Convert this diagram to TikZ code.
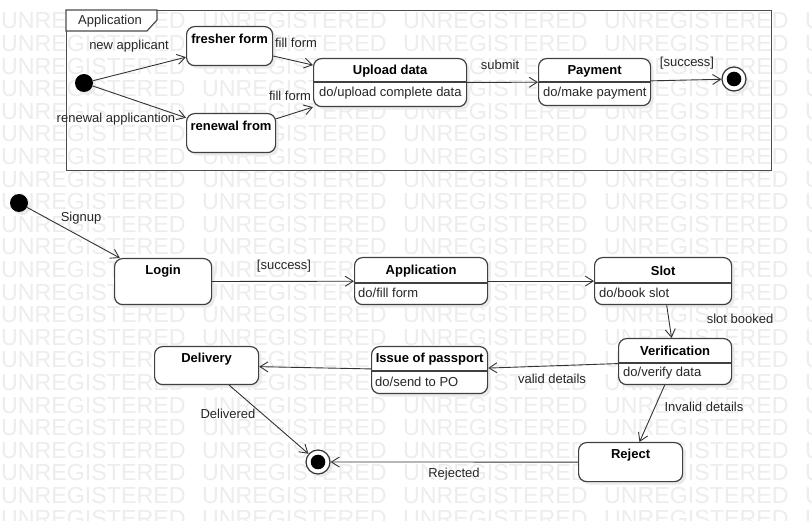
\documentclass[tikz,border=0pt]{standalone}
\usepackage{fontspec}
\setmainfont{Liberation Sans}
\usetikzlibrary{arrows.meta,shadows}
\begin{document}
\begin{tikzpicture}[x=1pt,y=-1pt,
  txt/.style={inner sep=0pt, text=black!85, font=\fontsize{13}{15}\selectfont},
  ttl/.style={inner sep=0pt, text=black, font=\fontsize{13}{15}\selectfont\bfseries},
  act/.style={txt, anchor=west},
  wm/.style={inner sep=0pt, anchor=base west, text=black!7, font=\fontsize{23.2}{24}\selectfont},
  shade/.style={drop shadow={shadow xshift=3pt, shadow yshift=-3pt, fill=black!8, opacity=1, draw=none}},
  state/.style={shade, draw=black!75, line width=1.2pt, fill=white, rounded corners=8pt, inner sep=0pt, anchor=north west},
  initial/.style={shade, circle, fill=black, minimum size=18pt, inner sep=0pt},
  final/.style={shade, circle, draw=black!80, line width=1.2pt, fill=white, minimum size=24pt, inner sep=0pt,
     path picture={\fill[black] (path picture bounding box.center) circle[radius=7.3pt];}},
  edge/.style={draw=black!80, line width=0.9pt, -{Straight Barb[length=8pt,width=10pt]}},
  divider/.style={draw=black!75, line width=1.2pt},
  framebox/.style={draw=black!70, line width=1.2pt, inner sep=0pt, anchor=north west},
]
% canvas
\fill[white] (0,0) rectangle (812,521);
\useasboundingbox (0,0) rectangle (812,521);

% background stamp rows
\begin{scope}
  \clip (0,0) rectangle (812,521);
  \foreach \r in {0,...,22}{
    \foreach \c in {0,...,4}{
      \node[wm] (wm-\r-\c) at (1+201*\c, 29+22.6*\r) {UNREGISTERED};
    }
  }
\end{scope}

% ---------- composite state "Application" ----------
\node[framebox, minimum width=705pt, minimum height=160pt] (frame) at (66,10) {};
\filldraw[draw=black!70, fill=white, line width=1.2pt]
  (66,10) -- (157,10) -- (157,20) -- (147,31) -- (66,31) -- cycle;
\node[txt] (frame-t) at (110,21) {Application};

\node[initial] (ini1) at (84,83) {};
\node[state, minimum width=86pt, minimum height=39pt] (fresher) at (186,26) {};
\node[ttl] (fresher-t) at ([yshift=-13pt]fresher.north) {fresher form};
\node[state, minimum width=89pt, minimum height=39pt] (renewal) at (186,113) {};
\node[ttl] (renewal-t) at ([yshift=-13pt]renewal.north) {renewal from};

\node[state, minimum width=153pt, minimum height=48pt] (upl) at (313,58) {};
\node[ttl] (upl-t) at ([yshift=-13pt]upl.north) {Upload data};
\draw[divider] ([yshift=-24pt]upl.north west) -- ([yshift=-24pt]upl.north east);
\node[act] (upl-d) at ([xshift=6pt,yshift=-35pt]upl.north west) {do/upload complete data};

\node[state, minimum width=112pt, minimum height=47pt] (pay) at (538,58) {};
\node[ttl] (pay-t) at ([yshift=-13pt]pay.north) {Payment};
\draw[divider] ([yshift=-24pt]pay.north west) -- ([yshift=-24pt]pay.north east);
\node[act] (pay-d) at ([xshift=5pt,yshift=-35pt]pay.north west) {do/make payment};

\node[final] (fin1) at (734,79) {};

\draw[edge] (ini1) -- (fresher);
\draw[edge] (ini1) -- (renewal);
\draw[edge] (fresher) -- (upl);
\draw[edge] (renewal) -- (upl);
\draw[edge] (upl) -- (pay);
\draw[edge] (pay) -- (fin1);

\node[txt] (l-new) at (129,46) {new applicant};
\node[txt] (l-ren) at (116,119) {renewal applicantion};
\node[txt] (l-fill1) at (296,43) {fill form};
\node[txt] (l-fill2) at (290,96) {fill form};
\node[txt] (l-sub) at (500,65) {submit};
\node[txt] (l-suc1) at (687,63) {[success]};

% ---------- main flow ----------
\node[initial] (ini2) at (19,203) {};
\node[state, minimum width=97pt, minimum height=46pt] (login) at (114,258) {};
\node[ttl] (login-t) at ([yshift=-13pt]login.north) {Login};

\node[state, minimum width=133pt, minimum height=47pt] (app) at (354,257) {};
\node[ttl] (app-t) at ([yshift=-14pt]app.north) {Application};
\draw[divider] ([yshift=-26pt]app.north west) -- ([yshift=-26pt]app.north east);
\node[act] (app-d) at ([xshift=4pt,yshift=-36pt]app.north west) {do/fill form};

\node[state, minimum width=137pt, minimum height=47pt] (slot) at (594,257) {};
\node[ttl] (slot-t) at ([yshift=-14pt]slot.north) {Slot};
\draw[divider] ([yshift=-26pt]slot.north west) -- ([yshift=-26pt]slot.north east);
\node[act] (slot-d) at ([xshift=5pt,yshift=-36pt]slot.north west) {do/book slot};

\node[state, minimum width=113pt, minimum height=46pt] (verif) at (618,338) {};
\node[ttl] (verif-t) at ([yshift=-13pt]verif.north) {Verification};
\draw[divider] ([yshift=-25pt]verif.north west) -- ([yshift=-25pt]verif.north east);
\node[act] (verif-d) at ([xshift=5pt,yshift=-35pt]verif.north west) {do/verify data};

\node[state, minimum width=116pt, minimum height=47pt] (issue) at (371,346) {};
\node[ttl] (issue-t) at ([yshift=-13pt]issue.north) {Issue of passport};
\draw[divider] ([yshift=-25pt]issue.north west) -- ([yshift=-25pt]issue.north east);
\node[act] (issue-d) at ([xshift=4pt,yshift=-36pt]issue.north west) {do/send to PO};

\node[state, minimum width=104pt, minimum height=38pt] (deliv) at (154,346) {};
\node[ttl] (deliv-t) at ([yshift=-13pt]deliv.north) {Delivery};

\node[state, minimum width=104pt, minimum height=39pt] (reject) at (578,442) {};
\node[ttl] (reject-t) at ([yshift=-13pt]reject.north) {Reject};

\node[final] (fin2) at (318,462) {};

\draw[edge] (ini2) -- (login);
\draw[edge] (login) -- (app);
\draw[edge] (app) -- (slot);
\draw[edge] (slot) -- (verif);
\draw[edge] (verif) -- (issue);
\draw[edge] (issue) -- (deliv);
\draw[edge] (deliv) -- (fin2);
\draw[edge] (verif) -- (reject);
\draw[edge] (reject) -- (fin2);

\node[txt] (l-sign) at (81,218) {Signup};
\node[txt] (l-suc2) at (284,266) {[success]};
\node[txt] (l-slot) at (740,319) {slot booked};
\node[txt] (l-valid) at (552,379) {valid details};
\node[txt] (l-deliv) at (228,414) {Delivered};
\node[txt] (l-inv) at (704,407) {Invalid details};
\node[txt] (l-rej) at (454,474) {Rejected};
\end{tikzpicture}
\end{document}
